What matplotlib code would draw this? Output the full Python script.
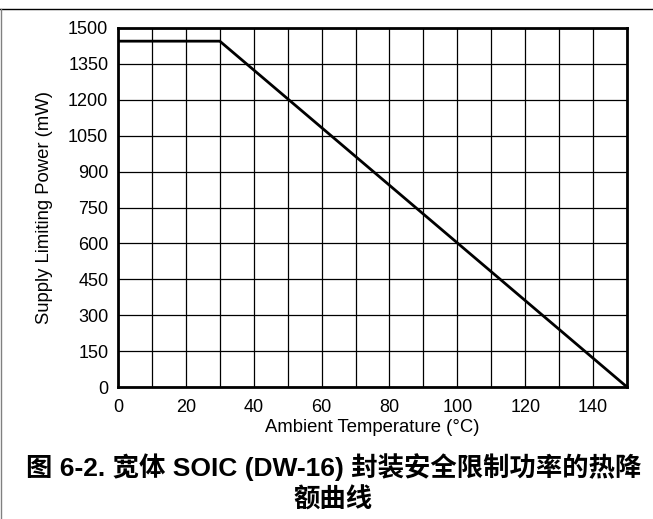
import matplotlib.pyplot as plt
from matplotlib.lines import Line2D

# Derating curve data
temp_c = [0, 30, 150]
power_mw = [1445, 1445, 0]

x_ticks = [0, 20, 40, 60, 80, 100, 120, 140]
y_ticks = [0, 150, 300, 450, 600, 750, 900, 1050, 1200, 1350, 1500]
x_grid = list(range(0, 151, 10))

caption_1 = '图 6-2. 宽体 SOIC (DW-16) 封装安全限制功率的热降'
caption_2 = '额曲线'

plt.rcParams['font.family'] = ['Liberation Sans', 'Noto Sans CJK SC', 'DejaVu Sans']

fig = plt.figure(figsize=(6.53, 5.19), dpi=100)
ax = fig.add_axes([118 / 653, 1 - 387 / 519, 509 / 653, 359 / 519])

for xv in x_grid:
    ax.axvline(xv, color='black', lw=0.9, zorder=1)
for yv in y_ticks:
    ax.axhline(yv, color='black', lw=0.9, zorder=1)

ax.plot(temp_c, power_mw, color='black', lw=2, zorder=3, solid_joinstyle='miter')

ax.set_xlim(0, 150)
ax.set_ylim(0, 1500)
ax.set_xticks(x_ticks)
ax.set_yticks(y_ticks)
ax.tick_params(length=0, labelsize=13)
ax.tick_params(axis='x', pad=9)
ax.tick_params(axis='y', pad=7)
for s in ax.spines.values():
    s.set_linewidth(2)
    s.set_zorder(4)

ax.set_xlabel('Ambient Temperature (°C)', fontsize=13.3)
ax.xaxis.set_label_coords(0.5, (387 - 427) / 359)
ax.xaxis.label.set_va('center')
ax.set_ylabel('Supply Limiting Power (mW)', fontsize=13.3)
ax.yaxis.set_label_coords((45 - 118) / 509, 0.5)
ax.yaxis.label.set_va('center')

fig.text(333.5 / 653, 1 - 467 / 519, caption_1, ha='center', va='center',
         fontsize=19, fontweight='bold')
fig.text(333 / 653, 1 - 500 / 519, caption_2, ha='center', va='center',
         fontsize=19, fontweight='bold')

# outer frame lines
fig.add_artist(Line2D([0, 1], [1 - 9 / 519, 1 - 9 / 519], color='black', lw=1,
                      transform=fig.transFigure))
fig.add_artist(Line2D([1 / 653, 1 / 653], [0, 1 - 9 / 519], color='gray', lw=1,
                      transform=fig.transFigure))

fig.savefig('out.png', dpi=100)
